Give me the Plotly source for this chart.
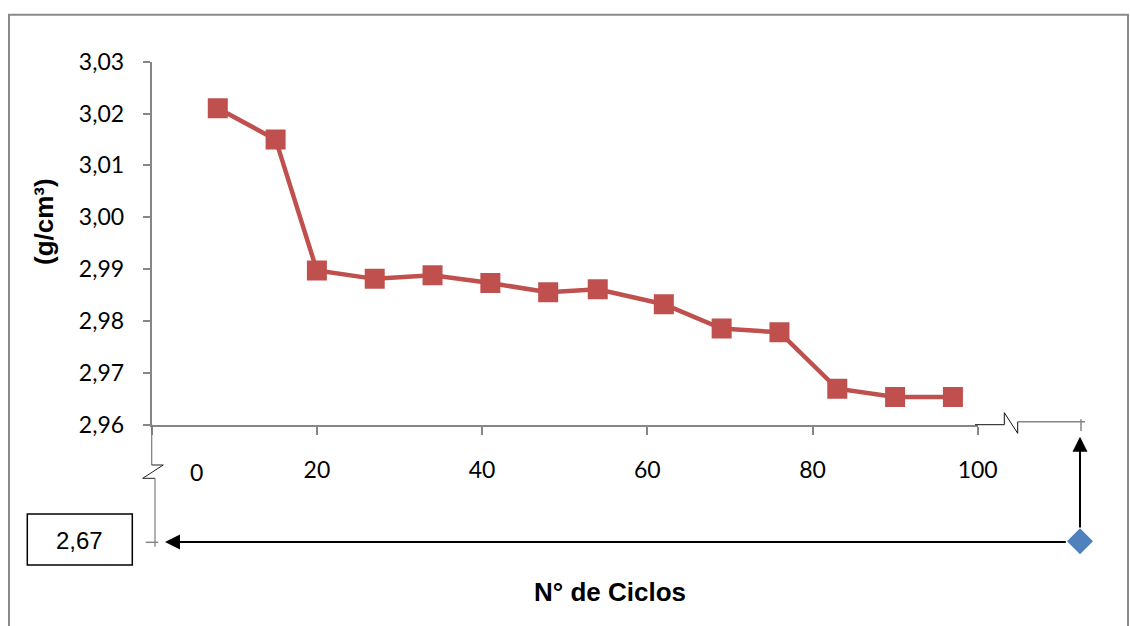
import plotly.graph_objects as go

# ---------------- data ----------------
cycles = [8, 15, 20, 27, 34, 41, 48, 54, 62, 69, 76, 83, 90, 97]
density = [3.0210, 3.0150, 2.9897, 2.9881, 2.9888, 2.9873, 2.9855, 2.9861,
           2.9832, 2.9785, 2.9778, 2.9669, 2.9653, 2.9653]
ref_x = [0]
ref_density = [2.67]
x_tick_vals = [0, 20, 40, 60, 80, 100]
x_tick_text = ["", "20", "40", "60", "80", "100"]
y_range = [2.96, 3.03]

W, H = 1130, 626
def X(px):
    return px / W
def Y(py):
    return 1 - py / H

GREY = "#868686"
RED = "#C0504D"
BLUE = "#4F81BD"
TICKFONT = dict(family="Lato", size=23, color="#000000")
ARIAL = "Liberation Sans, Arial"

fig = go.Figure()

fig.add_trace(go.Scatter(
    x=cycles, y=density, mode="lines+markers",
    line=dict(color=RED, width=4.5),
    marker=dict(symbol="square", size=20, color=RED, line=dict(width=0)),
    xaxis="x", yaxis="y", showlegend=False, hoverinfo="skip"))

fig.add_trace(go.Scatter(
    x=ref_x, y=ref_density, mode="markers",
    marker=dict(symbol="diamond", size=20, color=BLUE, line=dict(width=0)),
    xaxis="x2", yaxis="y2", showlegend=False, hoverinfo="skip"))

shapes = []
def line(x0, y0, x1, y1, color=GREY, width=1.5):
    shapes.append(dict(type="line", xref="paper", yref="paper",
                       x0=X(x0), y0=Y(y0), x1=X(x1), y1=Y(y1),
                       line=dict(color=color, width=width)))
def path(points, color="#000000", width=1):
    d = "M " + " L ".join(f"{X(a):.5f},{Y(b):.5f}" for a, b in points)
    shapes.append(dict(type="path", xref="paper", yref="paper", path=d,
                       line=dict(color=color, width=width)))

# outer border
shapes.append(dict(type="rect", xref="paper", yref="paper",
                   x0=X(9), y0=Y(14.7), x1=X(1128), y1=Y(640),
                   line=dict(color="#8a8a8a", width=2)))
# y axis extension and break
line(151.7, 424.5, 151.7, 465, color="#7a7a7a", width=1.2)
path([(151.7, 465), (163.3, 465), (142.7, 478.3), (155, 478.3)], color="#222222", width=1)
line(155, 478.3, 155, 546.7, color="#7a7a7a", width=1.2)
line(145.7, 542.3, 158.3, 542.3, color=GREY, width=1.5)
# x axis break
path([(975, 424.7), (1004.3, 424.7), (1004.3, 412.7), (1017.7, 433.3), (1017.7, 421.7)],
     color="#111111", width=1)
line(1017.7, 421.7, 1085, 421.7, color=GREY, width=1.5)
line(1081, 419.3, 1081, 431, color=GREY, width=1.5)
# value box
shapes.append(dict(type="rect", xref="paper", yref="paper",
                   x0=X(27.3), y0=Y(514), x1=X(132.3), y1=Y(565),
                   line=dict(color="#000000", width=1.5)))

annotations = [
    dict(text="2,67", x=X(79.8), y=Y(540), xref="paper", yref="paper",
         showarrow=False, font=dict(family=ARIAL, size=24, color="#000"),
         xanchor="center", yanchor="middle"),
    dict(text="0", x=X(196.7), y=Y(471.7), xref="paper", yref="paper",
         showarrow=False, font=TICKFONT, xanchor="center", yanchor="middle"),
    dict(text="<b>(g/cm³)</b>", x=X(44), y=Y(222), xref="paper", yref="paper",
         showarrow=False, textangle=-90, font=dict(family=ARIAL, size=26, color="#000"),
         xanchor="center", yanchor="middle"),
    dict(text="<b>N° de Ciclos</b>", x=X(610), y=Y(591.7), xref="paper", yref="paper",
         showarrow=False, font=dict(family=ARIAL, size=26, color="#000"),
         xanchor="center", yanchor="middle"),
    # horizontal arrow
    dict(text="", x=X(165), y=Y(542), xref="paper", yref="paper",
         ax=914.3, ay=0, showarrow=True, arrowhead=2, arrowsize=1.5,
         arrowwidth=2, arrowcolor="#000000", startstandoff=12, standoff=0),
    # vertical arrow
    dict(text="", x=X(1080), y=Y(436.7), xref="paper", yref="paper",
         ax=0, ay=104.3, showarrow=True, arrowhead=2, arrowsize=1.5,
         arrowwidth=2, arrowcolor="#000000", startstandoff=12, standoff=0),
]

fig.update_layout(
    template="none",
    width=W, height=H, autosize=False,
    margin=dict(l=0, r=0, t=0, b=0, pad=0),
    paper_bgcolor="white", plot_bgcolor="white",
    separators=",.",
    showlegend=False,
    xaxis=dict(domain=[X(151.7), X(977.7)], range=[0, 100], automargin=False,
               tickvals=x_tick_vals, ticktext=x_tick_text,
               showgrid=False, zeroline=False, showline=True,
               linecolor=GREY, linewidth=2,
               ticks="outside", ticklen=8, tickwidth=1.5, tickcolor=GREY,
               tickfont=TICKFONT, ticklabelstandoff=16, anchor="y"),
    yaxis=dict(domain=[Y(424.5), Y(61.7)], range=y_range, dtick=0.01, automargin=False,
               tickformat=".2f", showgrid=False, zeroline=False, showline=True,
               linecolor=GREY, linewidth=2,
               ticks="outside", ticklen=7, tickwidth=1.5, tickcolor=GREY,
               tickfont=TICKFONT, ticklabelstandoff=14, anchor="x"),
    xaxis2=dict(domain=[X(1060), X(1100)], range=[-1, 1], visible=False,
                anchor="y2", automargin=False),
    yaxis2=dict(domain=[Y(561.3), Y(521.3)], range=[2.66, 2.68], visible=False,
                anchor="x2", automargin=False),
    shapes=shapes,
    annotations=annotations,
)

fig.write_html("out.html")
